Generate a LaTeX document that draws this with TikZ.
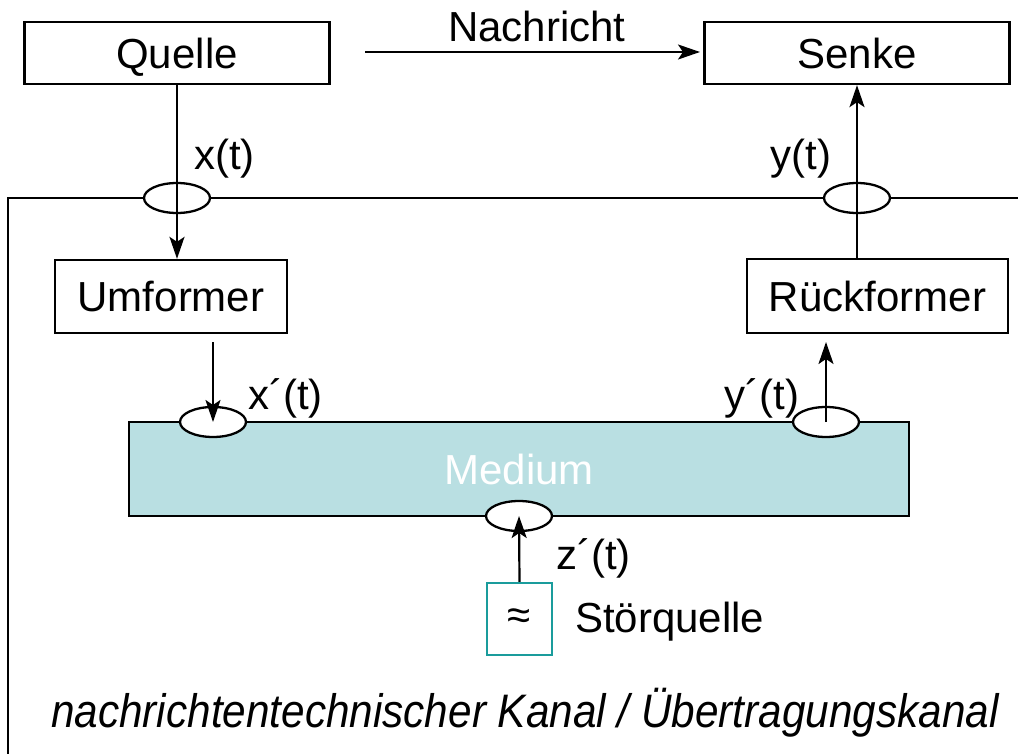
\documentclass[tikz,border=0pt]{standalone}
\usepackage{fontspec}
\usepackage{graphicx}
\setmainfont{Liberation Sans}
\usetikzlibrary{arrows.meta,shapes.geometric}
\definecolor{mediumfarbe}{HTML}{B9DFE2}
\definecolor{stoerfarbe}{HTML}{1A9C9C}
\tikzset{
  block/.style={draw, line width=2.3pt, rectangle, inner sep=0pt, text depth=0pt},
  port/.style={draw, line width=2.3pt, ellipse, fill=white, minimum width=66pt, minimum height=30pt, inner sep=0pt},
  pfeil/.style={-{Stealth[length=22pt,width=15pt,inset=5pt]}, line width=2.2pt},
  signal/.style={anchor=base, inner sep=0pt}
}
\begin{document}
\begin{tikzpicture}[x=1pt, y=-1pt, font=\fontsize{42}{50}\selectfont] %Zeichnung in Pixeln, y nach unten
	\useasboundingbox (0,0) rectangle (1018,754);
		%Quelle und Senke
	\node[block, minimum width=305pt, minimum height=62pt] (quelle) at (177,53) {Quelle};
	\node[block, minimum width=305pt, minimum height=62pt] (senke) at (857,53) {Senke};
	\coordinate (nachA) at (365,52);
	\coordinate (nachB) at (700,52);
	\draw[pfeil] (nachA) -- (nachB); %Nachricht
	\node[signal] (nachricht) at (537,42) {Nachricht};
	
		%Kanalrahmen
	\coordinate (rahmenR) at (1018,198);
	\coordinate (rahmenL) at (8,198);
	\coordinate (rahmenU) at (8,754);
	\draw[line width=2.3pt] (rahmenR) -- (rahmenL) -- (rahmenU);
	\node[port] (portX) at (177,198) {};
	\node[port] (portY) at (857,198) {};
	
		%Umformer und Rueckformer
	\node[block, minimum width=232pt, minimum height=73pt] (umformer) at (171,296.5) {Umformer};
	\node[block, minimum width=261pt, minimum height=74pt] (rueck) at (877.5,296) {Rückformer};
	
		%Medium
	\node[block, fill=mediumfarbe, text=white, minimum width=780pt, minimum height=94pt] (medium) at (519,469) {Medium};
	\node[port] (portXs) at (213,422) {};
	\node[port] (portYs) at (826,422) {};
	\node[port] (portZ) at (519,516) {};
	
		%Stoerquelle
	\node[block, draw=stoerfarbe, minimum width=65pt, minimum height=72pt] (stoer) at (519.5,619) {≈};
	\node[anchor=base west, inner sep=0pt] (stoertext) at (575,632) {Störquelle};
	
		%Pfeile
	\draw[pfeil] (quelle.south) -- (quelle.south |- umformer.north);
	\draw[pfeil] (portY |- rueck.north) -- (portY |- senke.south);
	\coordinate (umAus) at (213,342);
	\coordinate (rueckEin) at (826,342);
	\draw[pfeil] (umAus) -- (portXs.center);
	\draw[pfeil] (portYs.center) -- (rueckEin);
	\draw[pfeil] (stoer.north) -- (portZ.center);
	
		%Signale
	\node[signal] (xt) at (224.5,170) {x(t)};
	\node[signal] (yt) at (801,170) {y(t)};
	\node[signal] (xst) at (285.5,409) {x´(t)};
	\node[signal] (yst) at (762,409) {y´(t)};
	\node[signal] (zst) at (593.5,569) {z´(t)};
	
	\node[signal] (kanal) at (525,727) {\scalebox{0.9}[1]{\fontsize{47}{56}\selectfont\itshape nachrichtentechnischer Kanal / Übertragungskanal}};
\end{tikzpicture}
\end{document}
